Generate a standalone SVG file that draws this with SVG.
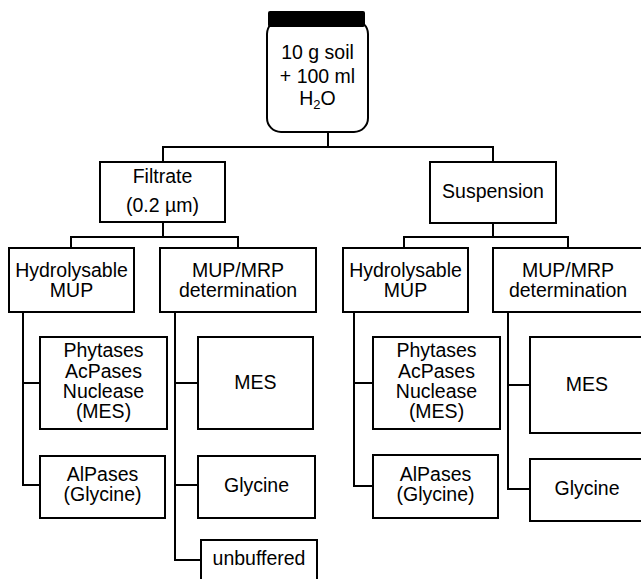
<svg xmlns="http://www.w3.org/2000/svg" width="641" height="579" viewBox="0 0 641 579">
<style>
.box{fill:#fff;stroke:#000;stroke-width:2}
.c{fill:none;stroke:#000;stroke-width:2}
text{font-family:"Liberation Sans",Arial,sans-serif;font-size:19.5px;fill:#000;text-anchor:middle}
</style>
<rect width="641" height="579" fill="#fff"/>
<g id="connectors">
<path class="c" d="M328,132 V147 M163,162 V147 H493 V162"/>
<path class="c" d="M163,222 V237 M71,248 V237 H238 V248"/>
<path class="c" d="M493,223 V237 M404,248 V237 H568 V248"/>
<path class="c" d="M23,312 V485 H40 M23,383 H40"/>
<path class="c" d="M175,312 V560 H201 M175,383 H198 M175,485 H198"/>
<path class="c" d="M354,312 V486 H373 M354,383 H373"/>
<path class="c" d="M508,312 V489 H530 M508,385 H530"/>
</g>
<g id="jar">
<rect class="box" x="267" y="20" width="101" height="112" rx="14"/>
<rect x="268" y="11" width="97" height="16" rx="2" fill="#000"/>
<text x="317.5" y="59">10 g soil</text>
<text x="317.5" y="83">+ 100 ml</text>
<text x="317.5" y="105">H<tspan font-size="13" dy="4">2</tspan><tspan dy="-4">O</tspan></text>
</g>
<g id="filtrate">
<rect class="box" x="100" y="162" width="125" height="60"/>
<text x="162.5" y="183">Filtrate</text>
<text x="162.5" y="212">(0.2 µm)</text>
</g>
<g id="suspension">
<rect class="box" x="430" y="162" width="126" height="61"/>
<text x="493" y="198">Suspension</text>
</g>
<g id="hydro-left">
<rect class="box" x="9" y="248" width="125" height="64"/>
<text x="71.5" y="277">Hydrolysable</text>
<text x="71.5" y="297">MUP</text>
</g>
<g id="mup-left">
<rect class="box" x="160" y="248" width="156" height="64"/>
<text x="238" y="277">MUP/MRP</text>
<text x="238" y="297">determination</text>
</g>
<g id="hydro-right">
<rect class="box" x="343" y="248" width="125" height="64"/>
<text x="405.5" y="277">Hydrolysable</text>
<text x="405.5" y="297">MUP</text>
</g>
<g id="mup-right">
<rect class="box" x="493" y="248" width="156" height="64"/>
<text x="568" y="277">MUP/MRP</text>
<text x="568" y="297">determination</text>
</g>
<g id="phyt-left">
<rect class="box" x="40" y="337" width="127" height="92"/>
<text x="103.5" y="357">Phytases</text>
<text x="103.5" y="378">AcPases</text>
<text x="103.5" y="398">Nuclease</text>
<text x="103.5" y="418">(MES)</text>
</g>
<g id="alp-left">
<rect class="box" x="40" y="456" width="125" height="62"/>
<text x="102.5" y="481">AlPases</text>
<text x="102.5" y="501">(Glycine)</text>
</g>
<g id="mes-left">
<rect class="box" x="198" y="337" width="115" height="92"/>
<text x="255.5" y="389">MES</text>
</g>
<g id="gly-left">
<rect class="box" x="198" y="456" width="117" height="62"/>
<text x="256.5" y="492">Glycine</text>
</g>
<g id="unbuffered">
<rect class="box" x="201" y="540" width="116" height="50"/>
<text x="259" y="565">unbuffered</text>
</g>
<g id="phyt-right">
<rect class="box" x="373" y="337" width="127" height="92"/>
<text x="436.5" y="357">Phytases</text>
<text x="436.5" y="378">AcPases</text>
<text x="436.5" y="398">Nuclease</text>
<text x="436.5" y="418">(MES)</text>
</g>
<g id="alp-right">
<rect class="box" x="373" y="455" width="125" height="63"/>
<text x="435.5" y="481">AlPases</text>
<text x="435.5" y="501">(Glycine)</text>
</g>
<g id="mes-right">
<rect class="box" x="530" y="337" width="115" height="96"/>
<text x="587" y="391">MES</text>
</g>
<g id="gly-right">
<rect class="box" x="530" y="459" width="115" height="62"/>
<text x="587" y="495">Glycine</text>
</g>
</svg>
